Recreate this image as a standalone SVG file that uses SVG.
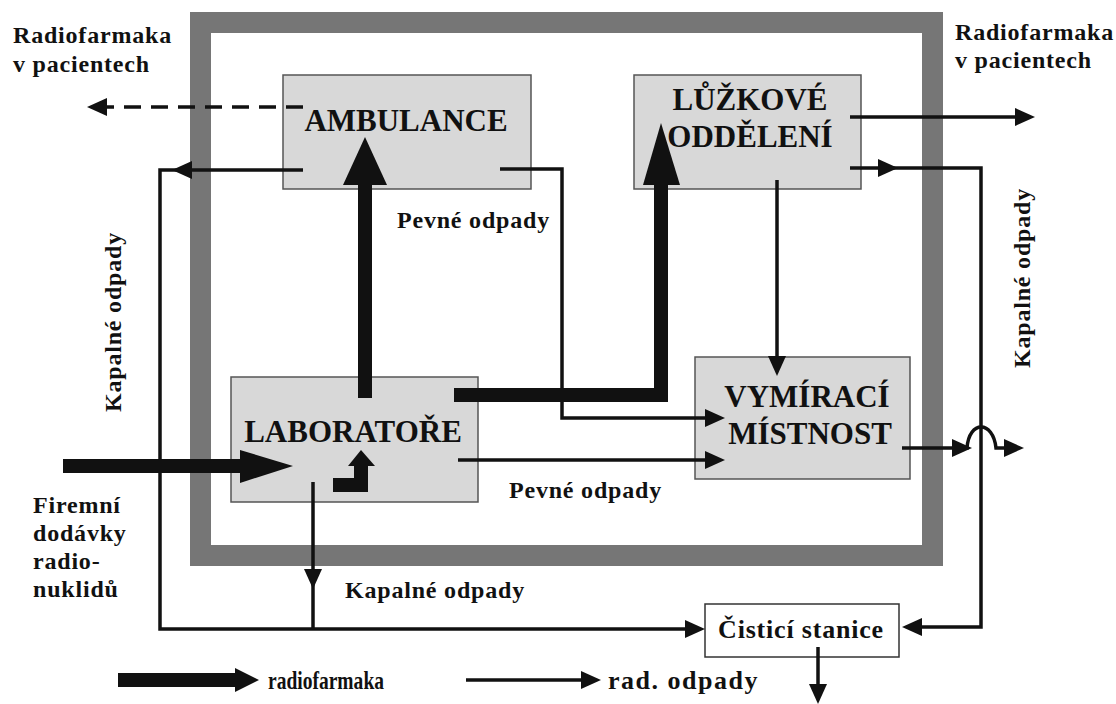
<svg xmlns="http://www.w3.org/2000/svg" xmlns:xlink="http://www.w3.org/1999/xlink" width="1116" height="704" viewBox="0 0 1116 704">
<style>
text{font-family:'Liberation Serif','DejaVu Serif',serif;font-weight:bold;fill:#111}
.node{font-size:31px}
.lbl{font-size:24px;letter-spacing:0.8px}
.box{fill:#d8d8d8;stroke:#555;stroke-width:1.5}
.ln{fill:none;stroke:#111;stroke-width:3.5}
.thk{fill:none;stroke:#111;stroke-width:14;stroke-linejoin:miter}
.fillk{fill:#111}
</style>
<defs>
<path id="ah" d="M0,0 L-20,-9 L-20,9 Z" fill="#111"/>
</defs>
<rect width="1116" height="704" fill="#ffffff"/>
<g id="building">
<rect x="200.5" y="22.5" width="732" height="533" fill="#ffffff" stroke="#767676" stroke-width="21"/>
</g>
<g font-family="Liberation Serif, DejaVu Serif, serif">
<g id="ambulance">
<rect class="box" x="283" y="75" width="248" height="114"/>
<text class="node" x="406" y="131" text-anchor="middle">AMBULANCE</text>
</g>
<g id="luzkove">
<rect class="box" x="634" y="75" width="227" height="114"/>
<text class="node" x="750" y="110" text-anchor="middle">LŮŽKOVÉ</text>
<text class="node" x="750" y="147" text-anchor="middle">ODDĚLENÍ</text>
</g>
<g id="laboratore">
<rect class="box" x="231" y="377" width="247" height="125"/>
<text class="node" x="353" y="442" text-anchor="middle">LABORATOŘE</text>
</g>
<g id="vymiraci">
<rect class="box" x="695" y="357" width="215" height="122"/>
<text class="node" x="807" y="407" text-anchor="middle">VYMÍRACÍ</text>
<text class="node" x="810" y="444" text-anchor="middle">MÍSTNOST</text>
</g>
<g id="cistici">
<rect x="705" y="604" width="194" height="53" fill="#ffffff" stroke="#333" stroke-width="1.5"/>
<text x="801" y="638" text-anchor="middle" font-size="26" letter-spacing="0.8">Čisticí stanice</text>
</g>
<g id="labels">
<text class="lbl" x="13" y="43">Radiofarmaka</text>
<text class="lbl" x="13" y="72">v pacientech</text>
<text class="lbl" x="955" y="40">Radiofarmaka</text>
<text class="lbl" x="955" y="68">v pacientech</text>
<text class="lbl" x="397" y="228">Pevné odpady</text>
<text class="lbl" x="509" y="498">Pevné odpady</text>
<text class="lbl" x="345" y="598">Kapalné odpady</text>
<text class="lbl" x="121" y="412" transform="rotate(-90 121 412)">Kapalné odpady</text>
<text class="lbl" x="1030" y="368" transform="rotate(-90 1030 368)">Kapalné odpady</text>
<text class="lbl" x="33" y="513">Firemní</text>
<text class="lbl" x="33" y="541">dodávky</text>
<text class="lbl" x="33" y="569">radio-</text>
<text class="lbl" x="33" y="597">nuklidů</text>
</g>
</g>
<g id="connectors">
<path class="ln" d="M303,107 H104" stroke-width="4.5" stroke-dasharray="17 10"/>
<use xlink:href="#ah" href="#ah" transform="translate(87,107) rotate(180)"/>
<path class="ln" d="M303,170 H160 V629 H690"/>
<use xlink:href="#ah" href="#ah" transform="translate(172,170) rotate(180)"/>
<use xlink:href="#ah" href="#ah" transform="translate(705,629)"/>
<path class="ln" d="M313,482 V629"/>
<use xlink:href="#ah" href="#ah" transform="translate(313,589) rotate(90)"/>
<path class="ln" d="M500,169 H562 V418 H708"/>
<use xlink:href="#ah" href="#ah" transform="translate(725,418)"/>
<path class="ln" d="M458,460 H708"/>
<use xlink:href="#ah" href="#ah" transform="translate(725,460)"/>
<path class="ln" d="M850,117 H1018"/>
<use xlink:href="#ah" href="#ah" transform="translate(1035,117)"/>
<path class="ln" d="M850,168 H981 V627 H915"/>
<use xlink:href="#ah" href="#ah" transform="translate(898,168)"/>
<use xlink:href="#ah" href="#ah" transform="translate(902,627) rotate(180)"/>
<path class="ln" d="M777,180 V360"/>
<use xlink:href="#ah" href="#ah" transform="translate(777,376) rotate(90)"/>
<path class="ln" d="M902,448 H967 C969,420 993,420 996,448 H1008"/>
<use xlink:href="#ah" href="#ah" transform="translate(972,448)"/>
<use xlink:href="#ah" href="#ah" transform="translate(1024,448)"/>
<path class="ln" d="M818,647 V688"/>
<use xlink:href="#ah" href="#ah" transform="translate(818,704) rotate(90)"/>
<path class="thk" d="M365,398 V180"/>
<polygon class="fillk" points="365,137 343,185 387,185"/>
<path class="thk" d="M454,395 H661 V180"/>
<polygon class="fillk" points="661,123 643,185 680,185"/>
<path class="thk" d="M63,466 H244" stroke-width="17"/>
<polygon class="fillk" points="293,466 240,450 240,483"/>
<path class="thk" d="M333,485 H361 V462"/>
<polygon class="fillk" points="361,450 348,466 375,466"/>
</g>
<g id="legend" font-family="Liberation Serif, DejaVu Serif, serif">
<path class="thk" d="M118,680 H238" stroke-width="13"/>
<polygon class="fillk" points="259,680 235,668 235,692"/>
<text x="268" y="689" font-size="25" textLength="116" lengthAdjust="spacingAndGlyphs">radiofarmaka</text>
<path class="ln" d="M466,680 H584"/>
<use xlink:href="#ah" href="#ah" transform="translate(601,680)"/>
<text x="608" y="689" font-size="26" letter-spacing="1.5">rad. odpady</text>
</g>
</svg>
